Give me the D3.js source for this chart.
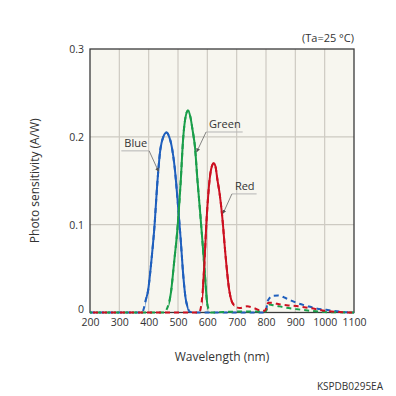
<!DOCTYPE html>
<html>
<head>
<meta charset="utf-8">
<script src="https://cdn.jsdelivr.net/npm/d3@7"></script>
<style>
  body { margin: 0; background: #fff; }
  text { font-family: "Open Sans", "Noto Sans", sans-serif; fill: #333; }
</style>
</head>
<body>
<div class="canva"></div>
<script>
// tick values
const xTicks = [200, 300, 400, 500, 600, 700, 800, 900, 1000, 1100]
const yTicks = [0, 0.1, 0.2, 0.3]
const yTickLabels = ["0", "0.1", "0.2", "0.3"]

// blue channel (nm, A/W)
const blueNm  = [200, 300, 378, 383, 389, 398, 409, 420, 429, 440, 450, 461, 470, 478, 489, 500, 509, 518, 526, 533, 540, 560, 700, 798, 807, 824, 841, 870, 904, 938, 972, 1006, 1051, 1100]
const blueVal = [0, 0, 0, 0.004, 0.013, 0.025, 0.058, 0.099, 0.145, 0.186, 0.2, 0.205, 0.2, 0.19, 0.164, 0.122, 0.084, 0.042, 0.016, 0.006, 0.001, 0, 0, 0, 0.014, 0.019, 0.0193, 0.016, 0.011, 0.0076, 0.0045, 0.003, 0.001, 0]
const blueSolid = [389, 536]

// green channel
const greenNm  = [200, 300, 456, 462, 470, 476, 487, 498, 509, 518, 526, 534, 542, 550, 558, 566, 576, 584, 592, 598, 604, 612, 700, 798, 810, 830, 860, 900, 950, 1000, 1100]
const greenVal = [0, 0, 0, 0.004, 0.012, 0.023, 0.058, 0.095, 0.148, 0.2, 0.223, 0.23, 0.223, 0.207, 0.188, 0.152, 0.112, 0.078, 0.042, 0.015, 0.004, 0, 0.001, 0.001, 0.009, 0.008, 0.006, 0.004, 0.002, 0.0005, 0]
const greenSolid = [468, 603]

// red channel
const redNm  = [200, 300, 500, 572, 577, 582, 589, 597, 608, 615, 622, 628, 634, 642, 650, 662, 674, 684, 693, 710, 735, 760, 785, 796, 808, 820, 850, 880, 910, 950, 1000, 1050, 1100]
const redVal = [0, 0, 0, 0, 0.004, 0.016, 0.05, 0.103, 0.152, 0.166, 0.17, 0.166, 0.152, 0.135, 0.112, 0.065, 0.027, 0.012, 0.008, 0.005, 0.007, 0.005, 0.002, 0.002, 0.011, 0.011, 0.009, 0.008, 0.007, 0.005, 0.002, 0.0005, 0]
const redSolid = [582, 692]

// curve labels: text anchor and leader tip in data units
const labelNames = ["Blue", "Green", "Red"]
const labelNm    = [317, 606, 694]
const labelVal   = [0.188, 0.2095, 0.139]
const tipNm      = [433, 564, 654]
const tipVal     = [0.161, 0.183, 0.113]
const leaderSide = ["right", "left", "left"]

const W = 396, H = 396
const margin = {left: 90, top: 49, right: 42, bottom: 83.5}
const pw = W - margin.left - margin.right
const ph = H - margin.top - margin.bottom

const x = d3.scaleLinear().domain([200, 1100]).range([0, pw])
const y = d3.scaleLinear().domain([0, 0.3]).range([ph, 0])

const svg = d3.select('.canva').append('svg')
    .attr('width', W)
    .attr('height', H)

const g = svg.append('g').attr('transform', `translate(${margin.left},${margin.top})`)

g.append('rect')
    .attr('width', pw).attr('height', ph)
    .attr('fill', '#f7f6ef')

// grid
g.append('g').selectAll('line.v')
    .data(xTicks.slice(1, -1))
    .enter().append('line')
    .attr('x1', d => x(d)).attr('x2', d => x(d))
    .attr('y1', 0).attr('y2', ph)
    .attr('stroke', '#cdcac2').attr('stroke-width', 1.2)
g.append('g').selectAll('line.h')
    .data(yTicks.slice(1, -1))
    .enter().append('line')
    .attr('x1', 0).attr('x2', pw)
    .attr('y1', d => y(d)).attr('y2', d => y(d))
    .attr('stroke', '#cdcac2').attr('stroke-width', 1.2)

// frame
g.append('rect')
    .attr('width', pw).attr('height', ph)
    .attr('fill', 'none')
    .attr('stroke', '#3a3a3a').attr('stroke-width', 1.3)

// axes
const xAxis = g.append('g')
    .attr('transform', `translate(0,${ph})`)
    .call(d3.axisBottom(x).tickValues(xTicks).tickSize(0).tickPadding(6).tickFormat(d3.format('d')))
xAxis.select('.domain').remove()
xAxis.selectAll('text').style('font-size', '10.5px').attr('fill', '#333')

const yAxis = g.append('g')
    .call(d3.axisLeft(y).tickValues(yTicks).tickSize(0).tickPadding(6).tickFormat((d, i) => yTickLabels[i]))
yAxis.select('.domain').remove()
yAxis.selectAll('text').style('font-size', '10.5px').attr('fill', '#333')
yAxis.selectAll('.tick').filter(d => d === 0).select('text').attr('dy', '0')

// curves
const series = [
    {name: 'blue', nm: blueNm, val: blueVal, solid: blueSolid, color: '#1f5fbd', off: 0},
    {name: 'green', nm: greenNm, val: greenVal, solid: greenSolid, color: '#1a9e4a', off: 3},
    {name: 'red', nm: redNm, val: redVal, solid: redSolid, color: '#cc1020', off: 6},
]

const line = d3.line()
    .x(d => x(d[0]))
    .y(d => y(d[1]))
    .curve(d3.curveMonotoneX)

const defs = svg.append('defs')
series.forEach(s => {
    defs.append('clipPath').attr('id', 'clip-' + s.name)
        .append('rect')
        .attr('x', x(s.solid[0])).attr('y', -5)
        .attr('width', x(s.solid[1]) - x(s.solid[0]))
        .attr('height', ph + 10)
})

series.forEach(s => {
    const pts = s.nm.map((d, i) => [d, s.val[i]])
    // dashed background for full range
    g.append('path')
        .attr('d', line(pts))
        .attr('fill', 'none')
        .attr('stroke', s.color)
        .attr('stroke-width', 2)
        .attr('stroke-dasharray', '5,4')
        .attr('stroke-dashoffset', s.off)
})
series.forEach(s => {
    const pts = s.nm.map((d, i) => [d, s.val[i]])
    g.append('path')
        .attr('d', line(pts))
        .attr('fill', 'none')
        .attr('stroke', s.color)
        .attr('stroke-width', 2)
        .attr('clip-path', `url(#clip-${s.name})`)
})

// leader labels
defs.append('marker')
    .attr('id', 'arrow')
    .attr('viewBox', '0 0 6 6')
    .attr('refX', 5).attr('refY', 3)
    .attr('markerWidth', 5).attr('markerHeight', 5)
    .attr('orient', 'auto')
    .append('path').attr('d', 'M0,0 L6,3 L0,6 Z').attr('fill', '#555')

labelNames.forEach((name, i) => {
    const tx = x(labelNm[i]), ty = y(labelVal[i])
    const t = g.append('text')
        .attr('x', tx).attr('y', ty)
        .style('font-size', '11px')
        .text(name)
    const w = t.node().getComputedTextLength()
    const uy = ty + 3.5
    g.append('line')
        .attr('x1', tx - 3).attr('x2', tx + w + 2)
        .attr('y1', uy).attr('y2', uy)
        .attr('stroke', '#b5b5b5').attr('stroke-width', 1)
    const sx = leaderSide[i] === 'right' ? tx + w + 2 : tx - 3
    g.append('line')
        .attr('x1', sx).attr('y1', uy)
        .attr('x2', x(tipNm[i])).attr('y2', y(tipVal[i]))
        .attr('stroke', '#666').attr('stroke-width', 0.8)
        .attr('marker-end', 'url(#arrow)')
})

// texts
svg.append('text')
    .attr('x', margin.left + pw).attr('y', margin.top - 7)
    .attr('text-anchor', 'end')
    .style('font-size', '11px')
    .text('(Ta=25 °C)')

svg.append('text')
    .attr('x', margin.left + pw / 2).attr('y', 361)
    .attr('text-anchor', 'middle')
    .style('font-size', '12px')
    .text('Wavelength (nm)')

svg.append('text')
    .attr('transform', `translate(39,${margin.top + ph / 2}) rotate(-90)`)
    .attr('text-anchor', 'middle')
    .style('font-size', '12px')
    .text('Photo sensitivity (A/W)')

svg.append('text')
    .attr('x', 383).attr('y', 390)
    .attr('text-anchor', 'end')
    .style('font-size', '10px')
    .text('KSPDB0295EA')
</script>
</body>
</html>
